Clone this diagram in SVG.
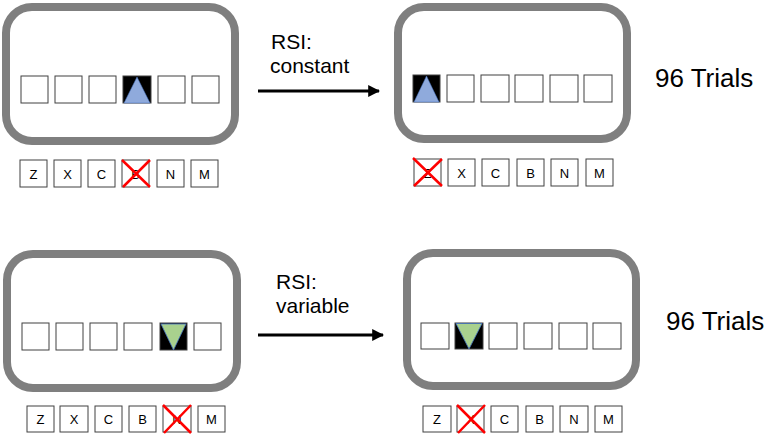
<svg xmlns="http://www.w3.org/2000/svg" width="767" height="435" viewBox="0 0 767 435">
<style>
.panel{fill:#fff;stroke:#7f7f7f;stroke-width:8}
.sq{fill:#fff;stroke:#404040;stroke-width:1}
.blk{fill:#000;stroke:#404040;stroke-width:1}
.key{fill:#fff;stroke:#404040;stroke-width:1}
.kt{font-family:"Liberation Sans",Arial,sans-serif;font-size:13px;fill:#000;text-anchor:middle}
.lbl{font-family:"Liberation Sans",Arial,sans-serif;font-size:21px;fill:#000}
.trials{font-family:"Liberation Sans",Arial,sans-serif;font-size:26px;fill:#000}
.xmark{stroke:#ff0000;stroke-width:2.5;fill:none}
.up{fill:#8faadc;stroke:#4472c4;stroke-width:0.5}
.down{fill:#a9d18e;stroke:#4472c4;stroke-width:0.8}
.arr{stroke:#000;stroke-width:3;fill:none}
</style>
<defs>
<marker id="ah" viewBox="0 0 10 10" refX="9" refY="5" markerWidth="4" markerHeight="4" orient="auto" markerUnits="strokeWidth">
<path d="M0,0 L10,5 L0,10 z" fill="#000"/>
</marker>
</defs>

<g id="panel1">
<rect class="panel" x="6" y="7" width="229" height="134" rx="26"/>
<rect class="sq" x="21" y="76" width="27" height="27"/>
<rect class="sq" x="55" y="76" width="27" height="27"/>
<rect class="sq" x="89" y="76" width="27" height="27"/>
<rect class="blk" x="123" y="76" width="28" height="27"/>
<polygon class="up" points="137,77 124,103 150,103"/>
<rect class="sq" x="158" y="76" width="27" height="27"/>
<rect class="sq" x="192" y="76" width="27" height="27"/>
</g>
<g id="keys1">
<rect class="key" x="20" y="160" width="27" height="27"/><text class="kt" x="33.5" y="178.5">Z</text>
<rect class="key" x="54" y="160" width="27" height="27"/><text class="kt" x="67.5" y="178.5">X</text>
<rect class="key" x="88" y="160" width="27" height="27"/><text class="kt" x="101.5" y="178.5">C</text>
<rect class="key" x="122" y="160" width="27" height="27"/><text class="kt" x="135.5" y="178.5">B</text>
<path class="xmark" d="M122,160 L150,187 M150,160 L123,187"/>
<rect class="key" x="157" y="160" width="27" height="27"/><text class="kt" x="170.5" y="178.5">N</text>
<rect class="key" x="191" y="160" width="27" height="27"/><text class="kt" x="204.5" y="178.5">M</text>
</g>

<g id="panel2">
<rect class="panel" x="398" y="7" width="229" height="132" rx="26"/>
<rect class="blk" x="413" y="75" width="27" height="27"/>
<polygon class="up" points="426.5,76 414,102 439,102"/>
<rect class="sq" x="447" y="75" width="27" height="27"/>
<rect class="sq" x="481" y="75" width="28" height="27"/>
<rect class="sq" x="515" y="75" width="28" height="27"/>
<rect class="sq" x="550" y="75" width="28" height="27"/>
<rect class="sq" x="584" y="75" width="28" height="27"/>
</g>
<g id="keys2">
<rect class="key" x="414" y="159" width="27" height="27"/><text class="kt" x="427.5" y="177.5">Z</text>
<path class="xmark" d="M413,158 L442,186 M442,159 L414,186"/>
<rect class="key" x="448" y="159" width="27" height="27"/><text class="kt" x="461.5" y="177.5">X</text>
<rect class="key" x="482" y="159" width="27" height="27"/><text class="kt" x="495.5" y="177.5">C</text>
<rect class="key" x="517" y="159" width="27" height="27"/><text class="kt" x="530.5" y="177.5">B</text>
<rect class="key" x="551" y="159" width="27" height="27"/><text class="kt" x="564.5" y="177.5">N</text>
<rect class="key" x="586" y="159" width="27" height="27"/><text class="kt" x="599.5" y="177.5">M</text>
</g>

<g id="panel3">
<rect class="panel" x="7" y="254" width="230" height="134" rx="26"/>
<rect class="sq" x="22" y="323" width="27" height="27"/>
<rect class="sq" x="56" y="323" width="27" height="27"/>
<rect class="sq" x="90" y="323" width="27" height="27"/>
<rect class="sq" x="124" y="323" width="28" height="27"/>
<rect class="blk" x="160" y="323" width="27" height="27"/>
<polygon class="down" points="161,324 186,324 173.5,350"/>
<rect class="sq" x="194" y="323" width="27" height="27"/>
</g>
<g id="keys3">
<rect class="key" x="27" y="406" width="27" height="26"/><text class="kt" x="40.5" y="424">Z</text>
<rect class="key" x="60" y="406" width="28" height="26"/><text class="kt" x="74" y="424">X</text>
<rect class="key" x="95" y="406" width="27" height="26"/><text class="kt" x="108.5" y="424">C</text>
<rect class="key" x="129" y="406" width="27" height="26"/><text class="kt" x="142.5" y="424">B</text>
<rect class="key" x="163" y="406" width="28" height="26"/><text class="kt" x="177" y="424">N</text>
<path class="xmark" d="M163,405 L191,433 M191,405 L164,433"/>
<rect class="key" x="198" y="406" width="27" height="26"/><text class="kt" x="211.5" y="424">M</text>
</g>

<g id="panel4">
<rect class="panel" x="407" y="253" width="229" height="133" rx="26"/>
<rect class="sq" x="421" y="323" width="28" height="26"/>
<rect class="blk" x="455" y="323" width="28" height="26"/>
<polygon class="down" points="456,323.5 482,323.5 469,349"/>
<rect class="sq" x="489" y="323" width="28" height="26"/>
<rect class="sq" x="524" y="323" width="28" height="26"/>
<rect class="sq" x="559" y="323" width="28" height="26"/>
<rect class="sq" x="593" y="323" width="28" height="26"/>
</g>
<g id="keys4">
<rect class="key" x="423" y="406" width="28" height="26"/><text class="kt" x="437" y="424">Z</text>
<rect class="key" x="457" y="406" width="27" height="26"/><text class="kt" x="470.5" y="424">X</text>
<path class="xmark" d="M457,405 L485,433 M485,405 L458,433"/>
<rect class="key" x="491" y="406" width="27" height="26"/><text class="kt" x="504.5" y="424">C</text>
<rect class="key" x="526" y="406" width="27" height="26"/><text class="kt" x="539.5" y="424">B</text>
<rect class="key" x="560" y="406" width="28" height="26"/><text class="kt" x="574" y="424">N</text>
<rect class="key" x="595" y="406" width="27" height="26"/><text class="kt" x="608.5" y="424">M</text>
</g>

<g id="connectors">
<line class="arr" x1="258" y1="91" x2="379" y2="91" marker-end="url(#ah)"/>
<line class="arr" x1="258" y1="335" x2="383" y2="335" marker-end="url(#ah)"/>
</g>

<g id="labels">
<text class="lbl" x="271" y="49">RSI:</text>
<text class="lbl" x="270" y="73">constant</text>
<text class="lbl" x="276" y="289">RSI:</text>
<text class="lbl" x="276" y="313">variable</text>
<text class="trials" x="655" y="87">96 Trials</text>
<text class="trials" x="666" y="330">96 Trials</text>
</g>
</svg>
